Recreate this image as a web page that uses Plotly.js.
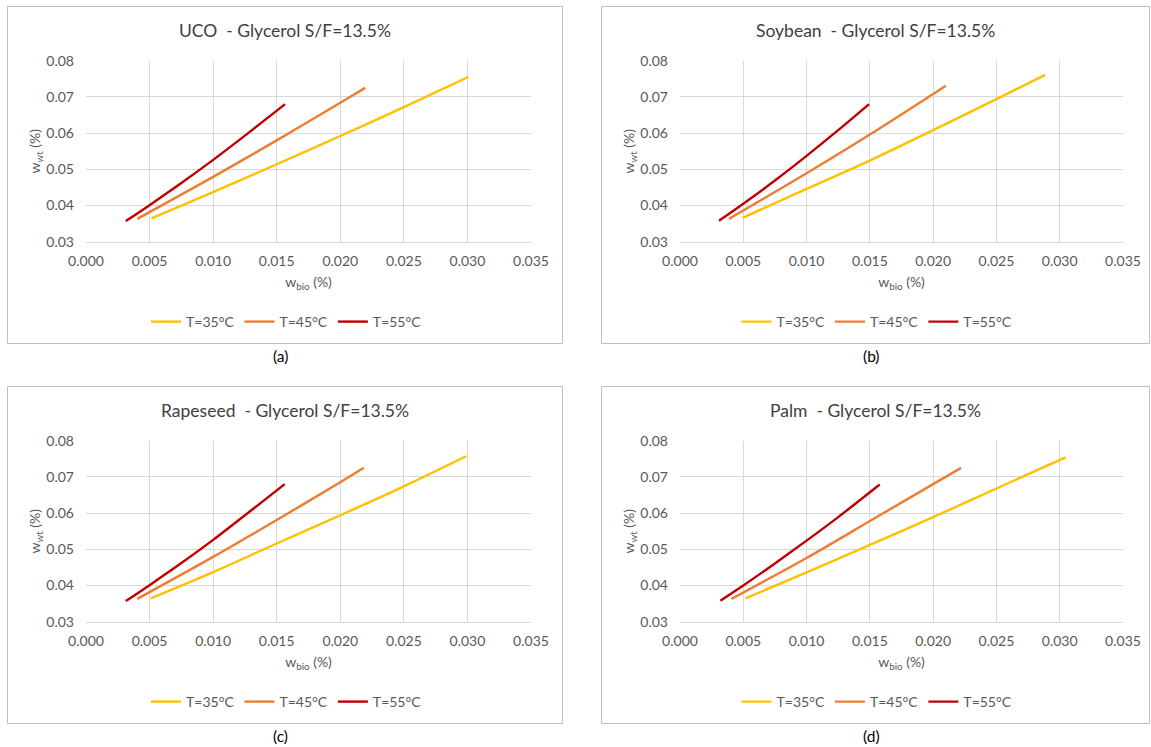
<!DOCTYPE html>
<html>
<head>
<meta charset="utf-8">
<script src="https://cdn.plot.ly/plotly-3.0.1.min.js"></script>
<style>
html,body{margin:0;padding:0;background:#fff;}
#chart{width:1151px;height:747px;}
</style>
</head>
<body>
<div id="chart"></div>
<script>
// ---- data ----
var panelTitles = ["UCO  - Glycerol S/F=13.5%", "Soybean  - Glycerol S/F=13.5%", "Rapeseed  - Glycerol S/F=13.5%", "Palm  - Glycerol S/F=13.5%"];
var panelCaptions = ["(a)", "(b)", "(c)", "(d)"];
var seriesNames = ["T=35°C", "T=45°C", "T=55°C"];

// UCO
var uco35x = [0.00515, 0.010, 0.015, 0.020, 0.025, 0.03007];
var uco35y = [0.03645, 0.0437, 0.0514, 0.0592, 0.0672, 0.0755];
var uco45x = [0.00403, 0.010, 0.015, 0.020, 0.02196];
var uco45y = [0.0363, 0.0479, 0.0580, 0.0684, 0.0725];
var uco55x = [0.00313, 0.005, 0.0075, 0.010, 0.0125, 0.01566];
var uco55y = [0.0357, 0.0401, 0.0462, 0.0526, 0.0593, 0.0680];
// Soybean
var soy35x = [0.00494, 0.010, 0.015, 0.020, 0.025, 0.02885];
var soy35y = [0.0366, 0.0446, 0.0524, 0.0608, 0.0694, 0.0761];
var soy45x = [0.00387, 0.010, 0.015, 0.020, 0.0210];
var soy45y = [0.0363, 0.0489, 0.0596, 0.0708, 0.0731];
var soy55x = [0.00308, 0.005, 0.0075, 0.010, 0.0125, 0.01494];
var soy55y = [0.0358, 0.0405, 0.0469, 0.0537, 0.0608, 0.0680];
// Rapeseed
var rap35x = [0.0051, 0.010, 0.015, 0.020, 0.025, 0.0299];
var rap35y = [0.03645, 0.0437, 0.0516, 0.0594, 0.0674, 0.0757];
var rap45x = [0.00403, 0.010, 0.015, 0.020, 0.02185];
var rap45y = [0.0363, 0.0479, 0.0581, 0.0685, 0.0725];
var rap55x = [0.00313, 0.005, 0.0075, 0.010, 0.0125, 0.01563];
var rap55y = [0.0357, 0.0401, 0.0462, 0.0526, 0.0594, 0.0680];
// Palm
var palm35x = [0.00517, 0.010, 0.015, 0.020, 0.025, 0.03046];
var palm35y = [0.03645, 0.0436, 0.0512, 0.0589, 0.0668, 0.0754];
var palm45x = [0.00406, 0.010, 0.015, 0.020, 0.02221];
var palm45y = [0.0363, 0.0476, 0.0578, 0.0680, 0.0725];
var palm55x = [0.00319, 0.005, 0.0075, 0.010, 0.0125, 0.01578];
var palm55y = [0.0358, 0.0400, 0.0461, 0.0524, 0.0589, 0.0679];

var xTickVals = [0, 0.005, 0.010, 0.015, 0.020, 0.025, 0.030, 0.035];
var yTickVals = [0.03, 0.04, 0.05, 0.06, 0.07, 0.08];

// ---- styling / layout ----
var colors = ["#FFC000", "#ED7D31", "#C00000"];
var W = 1151, H = 747;
var FONT = "Lato, 'Open Sans', sans-serif";
function px(x){ return x / W; }
function py(y){ return 1 - y / H; }

var panels = [
  {xs:[uco35x, uco45x, uco55x], ys:[uco35y, uco45y, uco55y], box:[7,6,562,343], plot:[86,60.7,531,241.7]},
  {xs:[soy35x, soy45x, soy55x], ys:[soy35y, soy45y, soy55y], box:[601,6,1149,343], plot:[680,60.7,1123,241.7]},
  {xs:[rap35x, rap45x, rap55x], ys:[rap35y, rap45y, rap55y], box:[7,386,562,723], plot:[86,440.7,531,621.7]},
  {xs:[palm35x, palm45x, palm55x], ys:[palm35y, palm45y, palm55y], box:[601,386,1149,723], plot:[680,440.7,1123,621.7]}
];

var traces = [];
var layout = {
  width: W, height: H,
  margin: {l:0, r:0, t:0, b:0},
  paper_bgcolor: "#ffffff",
  plot_bgcolor: "#ffffff",
  font: {family: FONT, color: "#595959", size: 14},
  showlegend: true,
  shapes: [], annotations: []
};

panels.forEach(function(p, i){
  var n = i + 1;
  var xa = "xaxis" + (n === 1 ? "" : n), ya = "yaxis" + (n === 1 ? "" : n);
  var xr = "x" + (n === 1 ? "" : n), yr = "y" + (n === 1 ? "" : n);
  var lg = "legend" + (n === 1 ? "" : n);
  for (var s = 0; s < 3; s++) {
    traces.push({
      type: "scatter", mode: "lines",
      x: p.xs[s], y: p.ys[s], xaxis: xr, yaxis: yr,
      name: seriesNames[s], legend: lg,
      line: {color: colors[s], width: 2.4, shape: "spline", smoothing: 0.8},
      hoverinfo: "x+y+name"
    });
  }
  var cx = (p.box[0] + p.box[2]) / 2;
  layout[xa] = {
    domain: [px(p.plot[0]), px(p.plot[2])],
    anchor: yr, range: [0, 0.035],
    tickvals: xTickVals, tickformat: ".3f",
    showgrid: true, gridcolor: "#D9D9D9", gridwidth: 1,
    zeroline: false, showline: true, linecolor: "#D9D9D9", ticks: "",
    ticklabelstandoff: 6,
    tickfont: {family: FONT, size: 14, color: "#595959"},
    title: {text: "w<sub>bio</sub> (%)", font: {family: FONT, size: 14, color: "#595959"}, standoff: 9},
    fixedrange: true
  };
  layout[ya] = {
    domain: [py(p.plot[3]), py(p.plot[1])],
    anchor: xr, range: [0.03, 0.08],
    tickvals: yTickVals, tickformat: ".2f",
    showgrid: true, gridcolor: "#D9D9D9", gridwidth: 1,
    zeroline: false, showline: false, ticks: "",
    ticklabelstandoff: 11,
    tickfont: {family: FONT, size: 14, color: "#595959"},
    title: {text: "w<sub>wt</sub> (%)", font: {family: FONT, size: 14, color: "#595959"}, standoff: 2},
    fixedrange: true
  };
  layout[lg] = {
    orientation: "h", x: px(cx + 2), xanchor: "center",
    y: py(p.box[1] + 316), yanchor: "middle",
    font: {family: FONT, size: 14, color: "#595959"},
    bgcolor: "rgba(0,0,0,0)", itemwidth: 30, tracegroupgap: 0
  };
  layout.shapes.push({
    type: "rect", xref: "paper", yref: "paper",
    x0: px(p.box[0] + 0.5), x1: px(p.box[2] + 0.5), y0: py(p.box[1] + 0.5), y1: py(p.box[3] + 0.5),
    line: {color: "#BFBFBF", width: 1}, fillcolor: "rgba(0,0,0,0)", layer: "below"
  });
  layout.annotations.push({
    xref: "paper", yref: "paper", x: px(cx), y: py(p.box[1] + 25),
    xanchor: "center", yanchor: "middle", showarrow: false,
    text: panelTitles[i], font: {family: FONT, size: 17.5, color: "#404040"}
  });
  layout.annotations.push({
    xref: "paper", yref: "paper", x: px(cx - 4), y: py(p.box[3] + 13),
    xanchor: "center", yanchor: "middle", showarrow: false,
    text: panelCaptions[i], font: {family: FONT, size: 15.5, color: "#000000"}
  });
});

Plotly.newPlot("chart", traces, layout, {displayModeBar: false, staticPlot: true});
</script>
</body>
</html>
